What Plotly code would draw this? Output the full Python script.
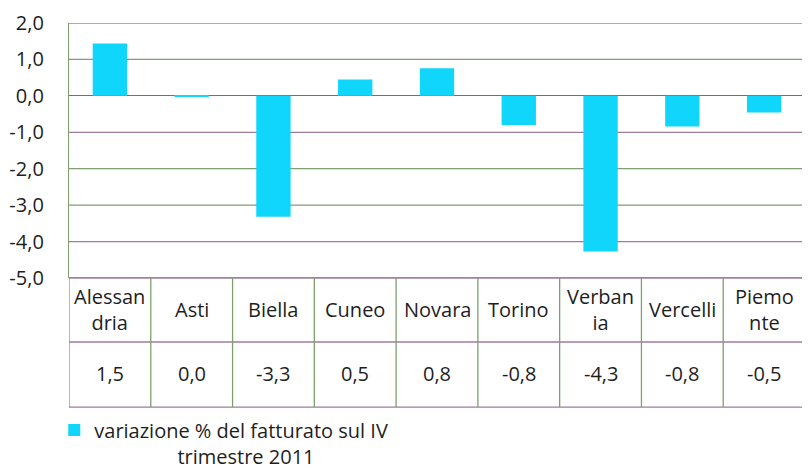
# Variazione % del fatturato sul IV trimestre 2011 - province del Piemonte
import plotly.graph_objects as go

#----------------------------------------------------------
# Data

province = ["Alessandria", "Asti", "Biella", "Cuneo", "Novara",
            "Torino", "Verbania", "Vercelli", "Piemonte"]
table_names = ["Alessan<br>dria", "Asti", "Biella", "Cuneo", "Novara",
               "Torino", "Verban<br>ia", "Vercelli", "Piemo<br>nte"]
variazione = [1.44, -0.03, -3.32, 0.45, 0.76, -0.8, -4.27, -0.84, -0.46]
table_values = ["1,5", "0,0", "-3,3", "0,5", "0,8", "-0,8", "-4,3", "-0,8", "-0,5"]
y_ticks = [2, 1, 0, -1, -2, -3, -4, -5]
y_labels = ["2,0", "1,0", "0,0", "-1,0", "-2,0", "-3,0", "-4,0", "-5,0"]
series_name = "variazione % del fatturato sul IV"
series_name2 = "trimestre 2011"

#----------------------------------------------------------
# Styles

font_name = "Open Sans"
text_col = "#1e1e1e"
bar_col = "#10D6FC"
green = "#7EA070"
purple = "#A07AA0"
grid_cols = {2: green, 1: green, -1: purple, -2: green, -3: green, -4: purple, -5: purple}

row1_y = -0.125
row2_y = -0.376
row_lines = [0, -0.251, -0.506]

#----------------------------------------------------------
# Figure

fig = go.Figure()

fig.add_trace(go.Bar(
    x=province,
    y=variazione,
    name=series_name + "<br>" + "&nbsp;" * 16 + series_name2,
    marker=dict(color=bar_col, line=dict(width=0)),
    width=0.42,
))

shapes = []
# gridlines (colours vary line by line, as in the original)
for v in y_ticks:
    if v == 0:
        continue
    shapes.append(dict(type="line", xref="paper", yref="y", x0=0, x1=1, y0=v, y1=v,
                       line=dict(color=grid_cols[v], width=1.3), layer="below"))

# data table borders
for yy in row_lines:
    shapes.append(dict(type="line", xref="x", yref="paper", x0=-0.5, x1=8.47, y0=yy, y1=yy,
                       line=dict(color=purple, width=1.3)))
for i in range(len(province) + 1):
    shapes.append(dict(type="line", xref="x", yref="paper", x0=i - 0.5, x1=i - 0.5,
                       y0=0, y1=row_lines[-1], line=dict(color=green, width=1.3)))

annotations = []
for i in range(len(province)):
    annotations.append(dict(x=i, y=row1_y, xref="x", yref="paper", text=table_names[i],
                            showarrow=False, yanchor="middle", align="center",
                            font=dict(family=font_name, size=20, color=text_col)))
    annotations.append(dict(x=i, y=row2_y, xref="x", yref="paper", text=table_values[i],
                            showarrow=False, yanchor="middle",
                            font=dict(family=font_name, size=20, color=text_col)))

# page body keeps an 8px margin, so the figure is sized to the visible area
fig.update_layout(
    width=802,
    height=466,
    margin=dict(l=61, r=5, t=15, b=196, autoexpand=False),
    paper_bgcolor="white",
    plot_bgcolor="white",
    font=dict(family=font_name, size=20, color=text_col),
    showlegend=True,
    legend=dict(x=-0.02, y=-0.52, xanchor="left", yanchor="top",
                valign="top", font=dict(size=20), itemwidth=30,
                bgcolor="rgba(0,0,0,0)"),
    xaxis=dict(range=[-0.5, 8.5], showticklabels=False, showgrid=False,
               zeroline=False, showline=False, ticks="", automargin=False),
    yaxis=dict(range=[-5, 2], tickvals=y_ticks, ticktext=y_labels,
               showgrid=False, zeroline=True, zerolinecolor="#C0504D", zerolinewidth=1.3,
               showline=True, linecolor=green, linewidth=1.3,
               ticks="", ticklabelstandoff=20, automargin=False,
               ticklabeloverflow="allow",
               tickfont=dict(family=font_name, size=20, color=text_col)),
    shapes=shapes,
    annotations=annotations,
)

fig.write_html("out.html")
